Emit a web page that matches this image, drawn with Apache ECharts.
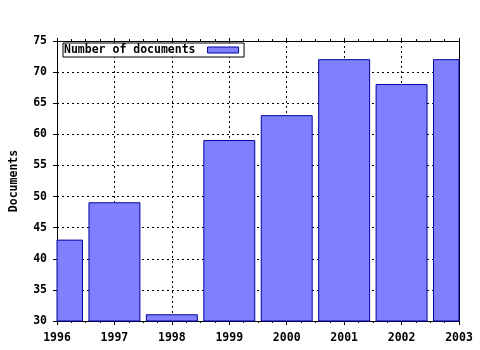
<!DOCTYPE html>
<html><head><meta charset="utf-8">
<script src="https://cdn.jsdelivr.net/npm/echarts@6/dist/echarts.min.js"></script>
<style>html,body{margin:0;padding:0;background:#fff}#c{width:480px;height:350px}</style>
</head><body><div id="c"></div>
<script>
const years = [1996, 1997, 1998, 1999, 2000, 2001, 2002, 2003];
const documents = [43, 49, 31, 59, 63, 72, 68, 72];
const yTicks = [30, 35, 40, 45, 50, 55, 60, 65, 70, 75];
const seriesName = 'Number of documents';
const yName = 'Documents';

const font = 'DejaVu Sans Mono';
const fs = 11.5;
const chart = echarts.init(document.getElementById('c'));
const axisLine = {show: true, lineStyle: {color: '#000', width: 1}};
const barFill = '#8080ff', barStroke = '#0000a0';
chart.setOption({
  animation: false,
  backgroundColor: '#fff',
  grid: {left: 57, right: 21, top: 41, bottom: 29, containLabel: false, outerBoundsMode: 'none'},
  legend: {
    show: true, left: 63, top: 43, orient: 'horizontal',
    data: [seriesName], align: 'right',
    backgroundColor: '#fff', borderColor: '#000', borderWidth: 1,
    padding: [1, 5, 1, 1], itemWidth: 31, itemHeight: 6, icon: 'rect', itemGap: 0,
    itemStyle: {color: barFill, borderColor: barStroke, borderWidth: 1},
    textStyle: {fontFamily: font, fontWeight: 'bold', fontSize: fs, color: '#000', padding: [0, 7, 0, 0]}
  },
  xAxis: [{
    type: 'value', min: years[0], max: years[years.length - 1], interval: 1,
    axisLine: axisLine,
    axisTick: {show: true, length: 4, lineStyle: {color: '#000'}},
    minorTick: {show: true, splitNumber: 4, length: 2, lineStyle: {color: '#000'}},
    splitLine: {show: true, lineStyle: {color: '#000', type: [2, 3], width: 1}},
    axisLabel: {fontFamily: font, fontWeight: 'bold', fontSize: fs, color: '#000', margin: 11, formatter: v => String(v)}
  }, {
    type: 'value', position: 'top', min: years[0], max: years[years.length - 1], interval: 1,
    axisLine: axisLine,
    axisTick: {show: true, length: 3, lineStyle: {color: '#000'}},
    minorTick: {show: true, splitNumber: 4, length: 2, lineStyle: {color: '#000'}},
    splitLine: {show: false}, axisLabel: {show: false}
  }],
  yAxis: [{
    type: 'value', min: yTicks[0], max: yTicks[yTicks.length - 1], interval: 5,
    name: yName, nameLocation: 'middle', nameGap: 37, nameRotate: 90,
    nameTextStyle: {fontFamily: font, fontWeight: 'bold', fontSize: fs, color: '#000'},
    axisLine: axisLine,
    axisTick: {show: true, length: 4, lineStyle: {color: '#000'}},
    splitLine: {show: true, lineStyle: {color: '#000', type: [2, 3], width: 1}},
    axisLabel: {fontFamily: font, fontWeight: 'bold', fontSize: fs, color: '#000', margin: 10}
  }, {
    type: 'value', position: 'right', min: yTicks[0], max: yTicks[yTicks.length - 1], interval: 5,
    axisLine: axisLine, axisTick: {show: false}, splitLine: {show: false}, axisLabel: {show: false}
  }],
  series: [{
    name: seriesName, type: 'custom', xAxisIndex: 0, yAxisIndex: 0,
    data: years.map((y, i) => [y, documents[i]]),
    itemStyle: {color: barFill, borderColor: barStroke, borderWidth: 1},
    renderItem: function (params, api) {
      const x = api.value(0), v = api.value(1);
      const top = api.coord([x, v]);
      const base = api.coord([x, yTicks[0]]);
      const w = api.size([1, 0])[0] * 0.887;
      const rect = echarts.graphic.clipRectByRect(
        {x: top[0] - w / 2, y: top[1], width: w, height: base[1] - top[1]},
        {x: params.coordSys.x, y: params.coordSys.y, width: params.coordSys.width, height: params.coordSys.height}
      );
      if (!rect) return null;
      return {type: 'rect', shape: rect,
        style: {fill: barFill, stroke: barStroke, lineWidth: 1}};
    }
  }]
});
</script></body></html>
